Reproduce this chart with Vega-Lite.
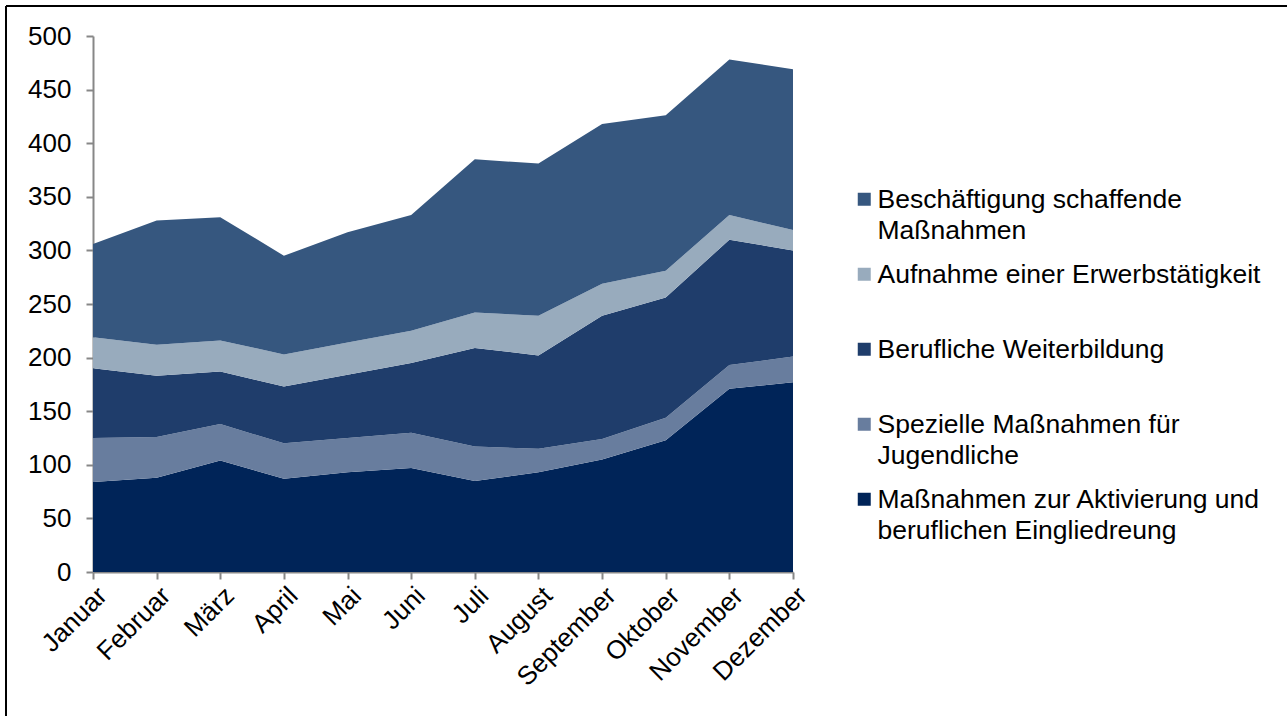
{
  "$schema": "https://vega.github.io/schema/vega-lite/v6.json",
  "width": 1281,
  "height": 710,
  "autosize": {"type": "none"},
  "padding": {"left": 6, "top": 6, "right": 0, "bottom": 0},
  "background": "white",
  "config": {
    "font": "Liberation Sans",
    "view": {"stroke": "black", "strokeWidth": 2, "strokeDash": [1281, 1991, 710, 0]}
  },
  "data": {
    "values": [
      {"monat": "Januar", "massnahme": "Maßnahmen zur Aktivierung und beruflichen Eingliedreung", "rang": 1, "anzahl": 84},
      {"monat": "Februar", "massnahme": "Maßnahmen zur Aktivierung und beruflichen Eingliedreung", "rang": 1, "anzahl": 88},
      {"monat": "März", "massnahme": "Maßnahmen zur Aktivierung und beruflichen Eingliedreung", "rang": 1, "anzahl": 104},
      {"monat": "April", "massnahme": "Maßnahmen zur Aktivierung und beruflichen Eingliedreung", "rang": 1, "anzahl": 87},
      {"monat": "Mai", "massnahme": "Maßnahmen zur Aktivierung und beruflichen Eingliedreung", "rang": 1, "anzahl": 93},
      {"monat": "Juni", "massnahme": "Maßnahmen zur Aktivierung und beruflichen Eingliedreung", "rang": 1, "anzahl": 97},
      {"monat": "Juli", "massnahme": "Maßnahmen zur Aktivierung und beruflichen Eingliedreung", "rang": 1, "anzahl": 85},
      {"monat": "August", "massnahme": "Maßnahmen zur Aktivierung und beruflichen Eingliedreung", "rang": 1, "anzahl": 93},
      {"monat": "September", "massnahme": "Maßnahmen zur Aktivierung und beruflichen Eingliedreung", "rang": 1, "anzahl": 105},
      {"monat": "Oktober", "massnahme": "Maßnahmen zur Aktivierung und beruflichen Eingliedreung", "rang": 1, "anzahl": 123},
      {"monat": "November", "massnahme": "Maßnahmen zur Aktivierung und beruflichen Eingliedreung", "rang": 1, "anzahl": 171},
      {"monat": "Dezember", "massnahme": "Maßnahmen zur Aktivierung und beruflichen Eingliedreung", "rang": 1, "anzahl": 177},
      {"monat": "Januar", "massnahme": "Spezielle Maßnahmen für Jugendliche", "rang": 2, "anzahl": 41},
      {"monat": "Februar", "massnahme": "Spezielle Maßnahmen für Jugendliche", "rang": 2, "anzahl": 38},
      {"monat": "März", "massnahme": "Spezielle Maßnahmen für Jugendliche", "rang": 2, "anzahl": 34},
      {"monat": "April", "massnahme": "Spezielle Maßnahmen für Jugendliche", "rang": 2, "anzahl": 33},
      {"monat": "Mai", "massnahme": "Spezielle Maßnahmen für Jugendliche", "rang": 2, "anzahl": 32},
      {"monat": "Juni", "massnahme": "Spezielle Maßnahmen für Jugendliche", "rang": 2, "anzahl": 33},
      {"monat": "Juli", "massnahme": "Spezielle Maßnahmen für Jugendliche", "rang": 2, "anzahl": 32},
      {"monat": "August", "massnahme": "Spezielle Maßnahmen für Jugendliche", "rang": 2, "anzahl": 22},
      {"monat": "September", "massnahme": "Spezielle Maßnahmen für Jugendliche", "rang": 2, "anzahl": 19},
      {"monat": "Oktober", "massnahme": "Spezielle Maßnahmen für Jugendliche", "rang": 2, "anzahl": 21},
      {"monat": "November", "massnahme": "Spezielle Maßnahmen für Jugendliche", "rang": 2, "anzahl": 22},
      {"monat": "Dezember", "massnahme": "Spezielle Maßnahmen für Jugendliche", "rang": 2, "anzahl": 24},
      {"monat": "Januar", "massnahme": "Berufliche Weiterbildung", "rang": 3, "anzahl": 65},
      {"monat": "Februar", "massnahme": "Berufliche Weiterbildung", "rang": 3, "anzahl": 57},
      {"monat": "März", "massnahme": "Berufliche Weiterbildung", "rang": 3, "anzahl": 49},
      {"monat": "April", "massnahme": "Berufliche Weiterbildung", "rang": 3, "anzahl": 53},
      {"monat": "Mai", "massnahme": "Berufliche Weiterbildung", "rang": 3, "anzahl": 59},
      {"monat": "Juni", "massnahme": "Berufliche Weiterbildung", "rang": 3, "anzahl": 65},
      {"monat": "Juli", "massnahme": "Berufliche Weiterbildung", "rang": 3, "anzahl": 92},
      {"monat": "August", "massnahme": "Berufliche Weiterbildung", "rang": 3, "anzahl": 87},
      {"monat": "September", "massnahme": "Berufliche Weiterbildung", "rang": 3, "anzahl": 115},
      {"monat": "Oktober", "massnahme": "Berufliche Weiterbildung", "rang": 3, "anzahl": 112},
      {"monat": "November", "massnahme": "Berufliche Weiterbildung", "rang": 3, "anzahl": 117},
      {"monat": "Dezember", "massnahme": "Berufliche Weiterbildung", "rang": 3, "anzahl": 99},
      {"monat": "Januar", "massnahme": "Aufnahme einer Erwerbstätigkeit", "rang": 4, "anzahl": 29},
      {"monat": "Februar", "massnahme": "Aufnahme einer Erwerbstätigkeit", "rang": 4, "anzahl": 29},
      {"monat": "März", "massnahme": "Aufnahme einer Erwerbstätigkeit", "rang": 4, "anzahl": 29},
      {"monat": "April", "massnahme": "Aufnahme einer Erwerbstätigkeit", "rang": 4, "anzahl": 30},
      {"monat": "Mai", "massnahme": "Aufnahme einer Erwerbstätigkeit", "rang": 4, "anzahl": 30},
      {"monat": "Juni", "massnahme": "Aufnahme einer Erwerbstätigkeit", "rang": 4, "anzahl": 30},
      {"monat": "Juli", "massnahme": "Aufnahme einer Erwerbstätigkeit", "rang": 4, "anzahl": 33},
      {"monat": "August", "massnahme": "Aufnahme einer Erwerbstätigkeit", "rang": 4, "anzahl": 37},
      {"monat": "September", "massnahme": "Aufnahme einer Erwerbstätigkeit", "rang": 4, "anzahl": 30},
      {"monat": "Oktober", "massnahme": "Aufnahme einer Erwerbstätigkeit", "rang": 4, "anzahl": 25},
      {"monat": "November", "massnahme": "Aufnahme einer Erwerbstätigkeit", "rang": 4, "anzahl": 23},
      {"monat": "Dezember", "massnahme": "Aufnahme einer Erwerbstätigkeit", "rang": 4, "anzahl": 19},
      {"monat": "Januar", "massnahme": "Beschäftigung schaffende Maßnahmen", "rang": 5, "anzahl": 87},
      {"monat": "Februar", "massnahme": "Beschäftigung schaffende Maßnahmen", "rang": 5, "anzahl": 116},
      {"monat": "März", "massnahme": "Beschäftigung schaffende Maßnahmen", "rang": 5, "anzahl": 115},
      {"monat": "April", "massnahme": "Beschäftigung schaffende Maßnahmen", "rang": 5, "anzahl": 92},
      {"monat": "Mai", "massnahme": "Beschäftigung schaffende Maßnahmen", "rang": 5, "anzahl": 103},
      {"monat": "Juni", "massnahme": "Beschäftigung schaffende Maßnahmen", "rang": 5, "anzahl": 108},
      {"monat": "Juli", "massnahme": "Beschäftigung schaffende Maßnahmen", "rang": 5, "anzahl": 143},
      {"monat": "August", "massnahme": "Beschäftigung schaffende Maßnahmen", "rang": 5, "anzahl": 142},
      {"monat": "September", "massnahme": "Beschäftigung schaffende Maßnahmen", "rang": 5, "anzahl": 149},
      {"monat": "Oktober", "massnahme": "Beschäftigung schaffende Maßnahmen", "rang": 5, "anzahl": 145},
      {"monat": "November", "massnahme": "Beschäftigung schaffende Maßnahmen", "rang": 5, "anzahl": 145},
      {"monat": "Dezember", "massnahme": "Beschäftigung schaffende Maßnahmen", "rang": 5, "anzahl": 150}
    ]
  },
  "mark": {"type": "area", "opacity": 1, "clip": false},
  "encoding": {
    "x": {
      "field": "monat",
      "type": "ordinal",
      "sort": ["Januar", "Februar", "März", "April", "Mai", "Juni", "Juli", "August", "September", "Oktober", "November", "Dezember"],
      "scale": {"type": "point", "range": [87, 787], "padding": 0},
      "axis": {
        "orient": "bottom",
        "offset": -144,
        "title": null,
        "grid": false,
        "labelAngle": -45,
        "labelFont": "Liberation Sans",
        "labelFontSize": 26,
        "labelColor": "black",
        "labelPadding": 3,
        "domainColor": "#878787",
        "domainWidth": 2,
        "tickColor": "#878787",
        "tickWidth": 2,
        "tickSize": 7
      }
    },
    "y": {
      "field": "anzahl",
      "type": "quantitative",
      "stack": "zero",
      "scale": {"domain": [0, 500], "range": [566, 30], "nice": false, "zero": true},
      "axis": {
        "orient": "left",
        "offset": -87,
        "title": null,
        "grid": false,
        "values": [0, 50, 100, 150, 200, 250, 300, 350, 400, 450, 500],
        "labelFont": "Liberation Sans",
        "labelFontSize": 26,
        "labelColor": "black",
        "labelPadding": 15,
        "domainColor": "#878787",
        "domainWidth": 2,
        "tickColor": "#878787",
        "tickWidth": 2,
        "tickSize": 7
      }
    },
    "order": {"field": "rang", "type": "quantitative", "sort": "ascending"},
    "color": {
      "field": "massnahme",
      "type": "nominal",
      "sort": ["Beschäftigung schaffende Maßnahmen", "Aufnahme einer Erwerbstätigkeit", "Berufliche Weiterbildung", "Spezielle Maßnahmen für Jugendliche", "Maßnahmen zur Aktivierung und beruflichen Eingliedreung"],
      "scale": {
        "domain": ["Beschäftigung schaffende Maßnahmen", "Aufnahme einer Erwerbstätigkeit", "Berufliche Weiterbildung", "Spezielle Maßnahmen für Jugendliche", "Maßnahmen zur Aktivierung und beruflichen Eingliedreung"],
        "range": ["#36577f", "#98abbd", "#1f3d6b", "#687d9e", "#002458"]
      },
      "legend": {
        "orient": "none",
        "legendX": 845,
        "legendY": 180,
        "title": null,
        "padding": 0,
        "gridAlign": "all",
        "symbolType": "square",
        "symbolSize": 169,
        "symbolStrokeWidth": 0,
        "symbolOpacity": 1,
        "labelFont": "Liberation Sans",
        "labelFontSize": 26.5,
        "labelColor": "black",
        "labelOffset": 0,
        "labelLimit": 0,
        "labelBaseline": "top",
        "rowPadding": 16,
        "labelExpr": "datum.value == 'Beschäftigung schaffende Maßnahmen' ? ['Beschäftigung schaffende', 'Maßnahmen'] : datum.value == 'Spezielle Maßnahmen für Jugendliche' ? ['Spezielle Maßnahmen für', 'Jugendliche'] : datum.value == 'Maßnahmen zur Aktivierung und beruflichen Eingliedreung' ? ['Maßnahmen zur Aktivierung und', 'beruflichen Eingliedreung'] : [datum.value, '']",
        "encode": {
          "labels": {"update": {"lineHeight": {"value": 31}, "dy": {"value": -12.5}}}
        }
      }
    }
  }
}
